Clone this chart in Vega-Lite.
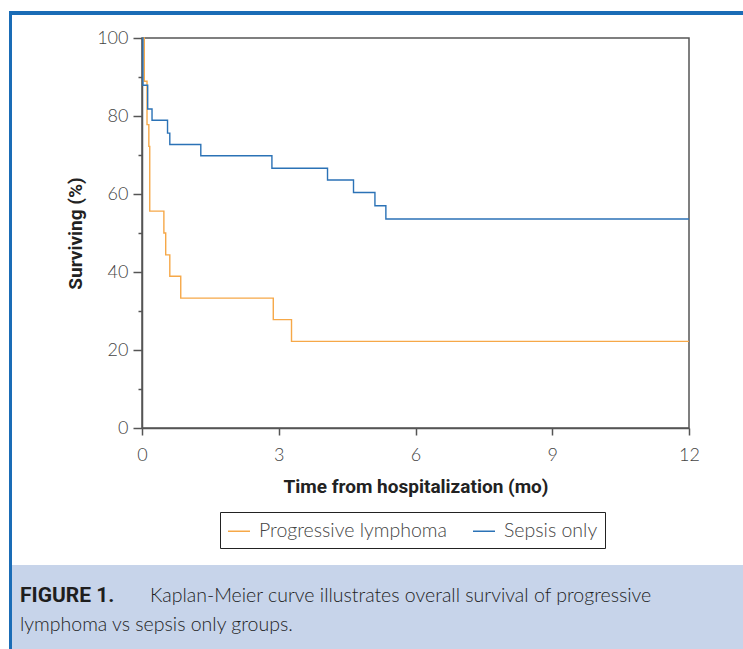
{
  "$schema": "https://vega.github.io/schema/vega-lite/v6.json",
  "padding": {"left": 9, "top": 7, "right": 0, "bottom": 0},
  "background": "white",
  "spacing": 0,
  "hconcat": [
    {
      "width": 3,
      "height": 642,
      "view": {"fill": "#1a6cb6", "stroke": null},
      "data": {"values": [{}]},
      "mark": {"type": "text", "text": ""}
    },
    {
      "spacing": 10,
      "vconcat": [
        {
          "width": 731,
          "height": 4,
          "view": {"fill": "#1a6cb6", "stroke": null},
          "data": {"values": [{}]},
          "mark": {"type": "text", "text": ""}
        },
        {
          "spacing": 129,
          "bounds": "flush",
          "hconcat": [
            {
              "width": 1,
              "height": 390,
              "data": {"values": [{}]},
              "mark": {"type": "text", "text": ""}
            },
            {
              "width": 547,
              "height": 390,
              "view": {"stroke": "#555555", "strokeWidth": 1.5},
              "data": {
                "values": [
                  {"group": "Progressive lymphoma", "t": 0, "s": 100},
                  {"group": "Progressive lymphoma", "t": 0.05, "s": 88.9},
                  {"group": "Progressive lymphoma", "t": 0.11, "s": 77.8},
                  {"group": "Progressive lymphoma", "t": 0.15, "s": 72.2},
                  {"group": "Progressive lymphoma", "t": 0.17, "s": 55.6},
                  {"group": "Progressive lymphoma", "t": 0.48, "s": 50.0},
                  {"group": "Progressive lymphoma", "t": 0.52, "s": 44.4},
                  {"group": "Progressive lymphoma", "t": 0.61, "s": 38.9},
                  {"group": "Progressive lymphoma", "t": 0.85, "s": 33.3},
                  {"group": "Progressive lymphoma", "t": 2.88, "s": 27.8},
                  {"group": "Progressive lymphoma", "t": 3.28, "s": 22.2},
                  {"group": "Progressive lymphoma", "t": 12, "s": 22.2},
                  {"group": "Sepsis only", "t": 0, "s": 100},
                  {"group": "Sepsis only", "t": 0.02, "s": 87.9},
                  {"group": "Sepsis only", "t": 0.125, "s": 81.8},
                  {"group": "Sepsis only", "t": 0.22, "s": 78.9},
                  {"group": "Sepsis only", "t": 0.56, "s": 75.6},
                  {"group": "Sepsis only", "t": 0.61, "s": 72.7},
                  {"group": "Sepsis only", "t": 1.29, "s": 69.8},
                  {"group": "Sepsis only", "t": 2.85, "s": 66.6},
                  {"group": "Sepsis only", "t": 4.07, "s": 63.6},
                  {"group": "Sepsis only", "t": 4.64, "s": 60.4},
                  {"group": "Sepsis only", "t": 5.11, "s": 57.0},
                  {"group": "Sepsis only", "t": 5.35, "s": 53.6},
                  {"group": "Sepsis only", "t": 12, "s": 53.6}
                ]
              },
              "mark": {"type": "line", "interpolate": "step-after", "strokeWidth": 1.4},
              "encoding": {
                "x": {
                  "field": "t",
                  "type": "quantitative",
                  "scale": {"domain": [0, 12], "nice": false},
                  "axis": {
                    "values": [0, 3, 6, 9, 12],
                    "tickSize": 7,
                    "labelPadding": 11,
                    "title": "Time from hospitalization (mo)",
                    "titlePadding": 13
                  }
                },
                "y": {
                  "field": "s",
                  "type": "quantitative",
                  "scale": {"domain": [0, 100], "nice": false},
                  "axis": {
                    "values": [0, 10, 20, 30, 40, 50, 60, 70, 80, 90, 100],
                    "labelExpr": "datum.value % 20 === 0 ? datum.label : ''",
                    "tickSize": {"condition": {"test": "datum.value % 20 === 0", "value": 9}, "value": 4},
                    "labelPadding": 5,
                    "title": "Surviving (%)",
                    "titlePadding": 11
                  }
                },
                "color": {
                  "field": "group",
                  "type": "nominal",
                  "scale": {
                    "domain": ["Progressive lymphoma", "Sepsis only"],
                    "range": ["#f6a848", "#2b72b6"]
                  },
                  "legend": {
                    "title": null,
                    "orient": "none",
                    "legendX": 211,
                    "legendY": 501,
                    "direction": "horizontal",
                    "columns": 2,
                    "symbolType": "stroke",
                    "symbolSize": 484,
                    "symbolStrokeWidth": 1.5,
                    "labelFont": "Lato",
                    "labelFontSize": 19.5,
                    "labelFontWeight": 300,
                    "labelColor": "#444444",
                    "labelOffset": 8,
                    "labelLimit": 0,
                    "columnPadding": 23,
                    "padding": 7,
                    "strokeColor": "#222222"
                  }
                }
              }
            }
          ]
        },
        {
          "width": 731,
          "height": 48,
          "data": {"values": [{}]},
          "mark": {"type": "text", "text": ""}
        },
        {
          "width": 731,
          "height": 84,
          "view": {"fill": "#c7d4ea", "stroke": null},
          "data": {
            "values": [
              {"line": 1, "part": "bold", "text": "FIGURE 1."},
              {"line": 1, "part": "rest", "text": "Kaplan-Meier curve illustrates overall survival of progressive"},
              {"line": 2, "part": "rest2", "text": "lymphoma vs sepsis only groups."}
            ]
          },
          "encoding": {
            "x": {"datum": 0, "type": "quantitative", "scale": {"domain": [0, 1]}, "axis": null},
            "y": {
              "field": "line",
              "type": "quantitative",
              "scale": {"domain": [-0.069, 2.828], "reverse": true, "nice": false, "zero": false},
              "axis": null
            },
            "text": {"field": "text"}
          },
          "layer": [
            {
              "transform": [{"filter": "datum.part === 'bold'"}],
              "mark": {"type": "text", "align": "left", "baseline": "middle", "dx": 8, "font": "Roboto", "fontWeight": "bold", "fontSize": 21, "color": "#1e1e1e"}
            },
            {
              "transform": [{"filter": "datum.part === 'rest'"}],
              "mark": {"type": "text", "align": "left", "baseline": "middle", "dx": 138, "font": "Lato", "fontWeight": 300, "fontSize": 19.5, "color": "#1e1e1e"}
            },
            {
              "transform": [{"filter": "datum.part === 'rest2'"}],
              "mark": {"type": "text", "align": "left", "baseline": "middle", "dx": 8, "font": "Lato", "fontWeight": 300, "fontSize": 19.5, "color": "#1e1e1e"}
            }
          ]
        }
      ]
    }
  ],
  "config": {
    "view": {"stroke": null},
    "axis": {
      "grid": false,
      "domainColor": "#555555",
      "domainWidth": 1.5,
      "tickColor": "#555555",
      "tickWidth": 1.5,
      "labelFont": "Lato",
      "labelFontWeight": 300,
      "labelFontSize": 18,
      "labelColor": "#444444",
      "labelFlush": false,
      "titleFont": "Roboto",
      "titleFontSize": 19,
      "titleFontWeight": "bold",
      "titleColor": "#222222"
    }
  }
}
